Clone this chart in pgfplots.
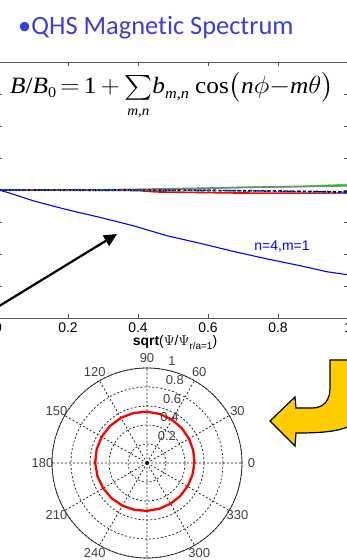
\documentclass[border=0pt]{standalone}
\usepackage{amsmath}
\usepackage{fontspec}
\usepackage{pgfplots}
\pgfplotsset{compat=1.18}
\usepgfplotslibrary{polar}
\usetikzlibrary{arrows.meta}
\setmainfont{Liberation Sans}
\newfontfamily\carlito[Ligatures=NoCommon]{Carlito}
\newfontfamily\timesf{Liberation Serif}
\definecolor{titleblue}{RGB}{60,60,220}
\definecolor{arrowyellow}{RGB}{255,204,0}
\begin{document}
\begin{tikzpicture}
\useasboundingbox (0bp,0bp) rectangle (347bp,560bp);
\clip (0bp,0bp) rectangle (347bp,560bp);
% title
\node[anchor=base west, inner sep=0pt, text=titleblue, font=\carlito\fontsize{26.5}{28}\selectfont] at (18bp,525bp) {•QHS Magnetic Spectrum};
% upper axis
\begin{axis}[at={(-2bp,242bp)}, anchor=south west, scale only axis,
  width=350bp, height=256bp, xmin=0, xmax=1, ymin=-0.08, ymax=0.08,
  xtick={0,0.2,0.4,0.6,0.8,1}, ytick={-0.08,-0.06,-0.04,-0.02,0,0.02,0.04,0.06,0.08},
  yticklabels={}, tick align=inside, major tick length=4bp,
  tick style={black!70, line width=0.5bp}, axis line style={black!65, line width=0.6bp},
  /pgf/number format/assume math mode=true,
  xticklabel style={font=\fontsize{14}{14}\selectfont, yshift=-1bp},
  scaled y ticks=false]
\addplot[green, line width=1.6bp] coordinates {(0,0) (0.45,0) (0.55,0.0006) (0.69,0.0016) (0.86,0.0022) (0.95,0.003) (1,0.0033)};
\addplot[gray, line width=1.6bp] coordinates {(0,0) (0.3,0.0001) (0.5,0.0008) (0.7,0.0016) (1,0.0026)};
\addplot[red, line width=1.6bp] coordinates {(0,0) (0.4,-0.0003) (0.45,-0.0012) (0.69,-0.0019) (1,-0.002)};
\addplot[blue, line width=1.6bp, dashed] coordinates {(0,0) (0.6,-0.0003) (0.8,-0.0006) (1,-0.0012)};
\addplot[black, line width=1.4bp, dash pattern=on 3bp off 2bp] coordinates {(0,0) (0.6,-0.0002) (0.8,-0.0008) (1,-0.0013)};
\addplot[cyan, line width=1.2bp, dotted] coordinates {(0,0) (0.6,-0.0004) (0.8,-0.001) (1,-0.0022)};
\addplot[blue, line width=1.1bp] coordinates {(0,0) (0.026,-0.0014) (0.1,-0.0067) (0.197,-0.0123) (0.291,-0.0171) (0.386,-0.0223) (0.483,-0.0286) (0.577,-0.0333) (0.671,-0.0383) (0.769,-0.0431) (0.863,-0.0473) (0.94,-0.0511) (1.0,-0.053)};
\end{axis}
% formula
\node[anchor=base west, inner sep=0pt, font=\timesf\fontsize{23.5}{26}\selectfont] at (10bp,466bp) {\scalebox{1.08}[1]{\itshape B\/\upshape/\itshape B\upshape\raisebox{-4bp}{\fontsize{15}{15}\selectfont 0}\,$=$\,1\,$+$\,$\sum\limits_{\mbox{\fontsize{14}{14}\timesf\itshape m,n}}$\itshape b\upshape\raisebox{-5bp}{\fontsize{15}{15}\selectfont\itshape m,n}\ cos$\bigl($\itshape n\upshape$\phi-$\itshape m\upshape$\theta\bigr)$}};
% curve label
\node[anchor=base, inner sep=0pt, text=blue, font=\fontsize{14}{14}\selectfont] at (282bp,309bp) {n=4,m=1};
% x label
\node[anchor=base, inner sep=0pt, font=\fontsize{14}{14}\selectfont] at (175bp,214bp) {\textbf{sqrt}($\Psi$/$\Psi$\raisebox{-4bp}{\fontsize{10}{10}\selectfont r/a=1})};
% black arrow
\draw[line width=2.2bp, -{Triangle[length=13bp,width=12bp]}] (-4bp,252bp) -- (117bp,326bp);
% polar plot
\begin{polaraxis}[at={(147bp,97bp)}, anchor=center, scale only axis, clip=false,
  width=190bp, height=190bp, ymin=0, ymax=1,
  xtick={0,30,60,90,120,150,180,210,240,270,300,330},
  ytick={0.2,0.4,0.6,0.8,1}, yticklabels={}, xticklabels={},
  major tick length=0pt, grid=major,
  major grid style={black!90, line width=0.7bp, dash pattern=on 2bp off 2bp},
  separate axis lines,
  x axis line style={black!85, line width=0.7bp},
  y axis line style={draw=none}]
\addplot[red, line width=2.3bp] coordinates {(0,0.499) (15,0.5045) (30,0.511) (45,0.518) (60,0.526) (75,0.533) (90,0.540) (105,0.545) (120,0.549) (135,0.551) (150,0.551) (165,0.549) (180,0.545) (195,0.5395) (210,0.533) (225,0.5256) (240,0.518) (255,0.5106) (270,0.504) (285,0.4986) (300,0.495) (315,0.493) (330,0.493) (345,0.495) (360,0.499)};
\foreach \r in {0.2,0.4,0.6,0.8,1} {
  \edef\temp{\noexpand\node[anchor=west, xshift=8bp, yshift=8bp, inner sep=0pt, font=\noexpand\fontsize{13}{13}\noexpand\selectfont, text=black!75] at (axis cs:82,\r) {\r};}
  \temp
}
\foreach \a in {0,30,60,90,120,150,180,210,240,270,300,330} {
  \edef\temp{\noexpand\node[anchor=center, inner sep=0pt, font=\noexpand\fontsize{13}{13}\noexpand\selectfont, text=black!75] at (axis cs:\a,1.1) {\a};}
  \temp
}
\end{polaraxis}
% yellow arrow
\draw[fill=arrowyellow, draw=black, line width=1.2bp, line join=miter]
  (330bp,200bp) -- (362bp,200bp) -- (362bp,155bp)
  .. controls (362bp,130bp) and (335bp,127bp) .. (296bp,127bp)
  -- (295bp,114bp) -- (270bp,139bp) -- (295bp,163bp) -- (296bp,152bp)
  -- (312bp,152bp) .. controls (324bp,152bp) and (330bp,160bp) .. (330bp,172bp) -- cycle;
\end{tikzpicture}
\end{document}
